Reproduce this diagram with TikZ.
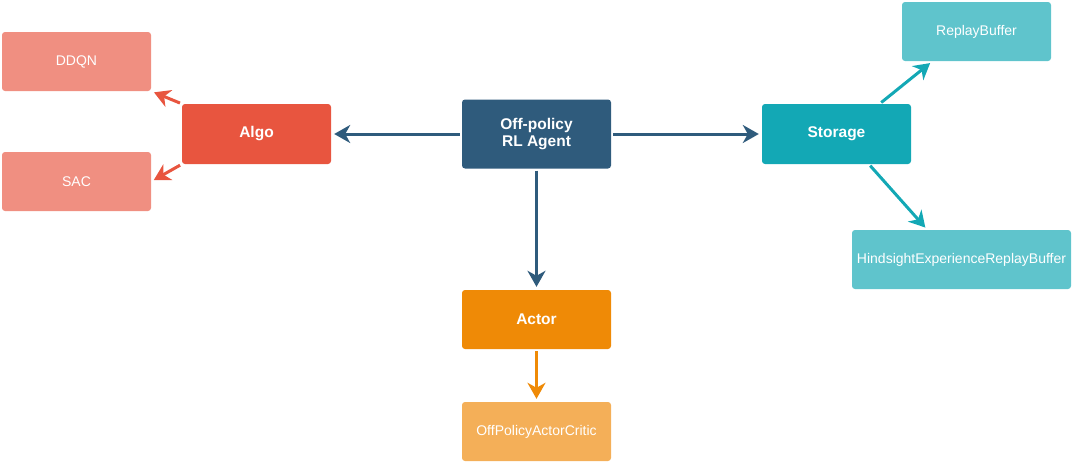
\documentclass[tikz,border=0pt]{standalone}
\usepackage{fontspec}
\setmainfont{Liberation Sans}
\usetikzlibrary{arrows.meta}
\definecolor{agentblue}{HTML}{2F5B7C}
\definecolor{algored}{HTML}{E8553F}
\definecolor{algolight}{HTML}{F08F81}
\definecolor{storeteal}{HTML}{13A8B5}
\definecolor{storelight}{HTML}{5FC4CC}
\definecolor{actororange}{HTML}{EF8A06}
\definecolor{actorlight}{HTML}{F4AF58}
\begin{document}
\begin{tikzpicture}[x=1pt,y=-1pt,
  box/.style={rounded corners=3pt,minimum width=149pt,minimum height=59pt,inner sep=0pt,text=white,font=\fontsize{15.5}{17}\selectfont\bfseries},
  leaf/.style={box,font=\fontsize{14}{16}\selectfont},
  link/.style={line width=3pt,-{Stealth[length=16pt,width=18pt,inset=5pt]},shorten >=3pt,shorten <=2pt}]
\useasboundingbox (0,0) rectangle (1073,463);
\node[box,fill=agentblue,minimum height=69pt,align=center] (agent) at (536.5,134) {Off-policy\\RL Agent};
\node[box,fill=algored,minimum height=60pt] (algo) at (256.5,134) {Algo};
\node[box,fill=storeteal,minimum height=60pt] (storage) at (836.5,134) {Storage};
\node[box,fill=actororange] (actor) at (536.5,319.5) {Actor};
\node[leaf,fill=algolight] (ddqn) at (76.5,61.5) {DDQN};
\node[leaf,fill=algolight] (sac) at (76.5,181.5) {SAC};
\node[leaf,fill=storelight] (replay) at (976.5,31.5) {ReplayBuffer};
\node[leaf,fill=storelight,minimum width=219pt] (her) at (961.5,259.5) {HindsightExperienceReplayBuffer};
\node[leaf,fill=actorlight] (critic) at (536.5,431.5) {OffPolicyActorCritic};
\draw[link,agentblue] (agent.west) -- (algo.east);
\draw[link,agentblue] (agent.east) -- (storage.west);
\draw[link,agentblue] (agent.south) -- (actor.north);
\draw[link,algored] (algo.north west) -- (ddqn.south east);
\draw[link,algored] (algo.south west) -- (sac.east);
\draw[link,storeteal] (storage.35) -- (replay.214);
\draw[link,storeteal] (storage.-43) -- (her.139);
\draw[link,actororange] (actor.south) -- (critic.north);
\end{tikzpicture}
\end{document}
